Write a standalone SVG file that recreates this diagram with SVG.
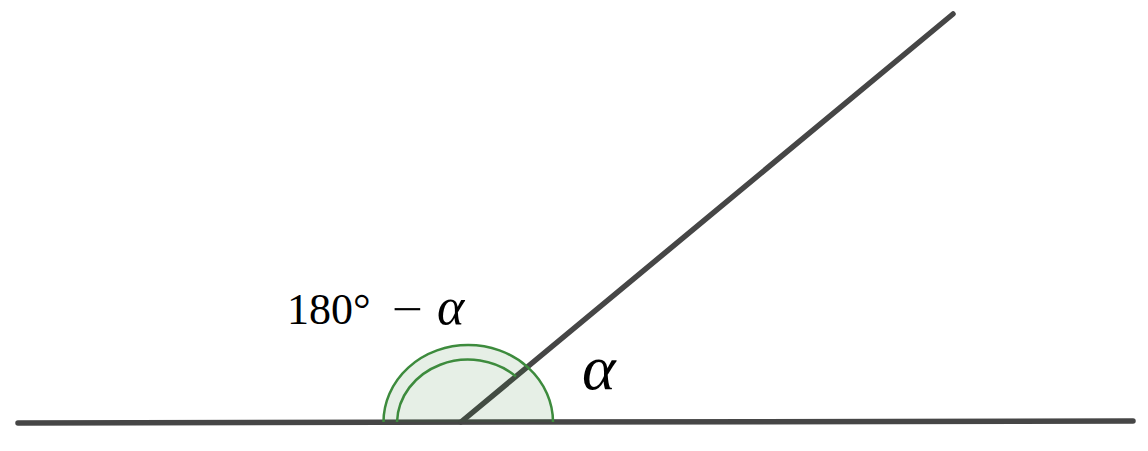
<svg xmlns="http://www.w3.org/2000/svg" width="1148" height="451" viewBox="0 0 1148 451">
<style>
.ln{stroke:#464646;stroke-width:5.5;stroke-linecap:round;fill:none}
.arc{stroke:#3d8b3d;stroke-width:2.5;fill:none}
.lbl{font-family:"Liberation Serif","DejaVu Serif",serif;fill:#000}
</style>
<rect width="1148" height="451" fill="#fff"/>
<g id="connectors">
<line id="baseline" class="ln" x1="18" y1="423" x2="1133" y2="421"/>
<line id="ray" class="ln" x1="461" y1="422" x2="953" y2="14"/>
</g>
<g id="angle-marks">
<path d="M383.5,422 A84.75,77 0 0 1 553,422 Z" fill="#2e7d32" fill-opacity="0.12" stroke="none"/>
<path class="arc" d="M383.5,422 A84.75,77 0 0 1 553,422"/>
<path class="arc" d="M397,422 A71,64 0 0 1 516,376.5"/>
</g>
<g id="label-supplement">
<text class="lbl" y="324" font-size="44"><tspan x="287">180</tspan><tspan x="353">°</tspan><tspan x="437" font-style="italic" font-size="52">α</tspan></text>
<text class="lbl" font-size="44" transform="translate(392,324) scale(1.25,1)">−</text>
</g>
<g id="label-alpha">
<text class="lbl" x="582" y="389" font-size="64" font-style="italic">α</text>
</g>
</svg>
